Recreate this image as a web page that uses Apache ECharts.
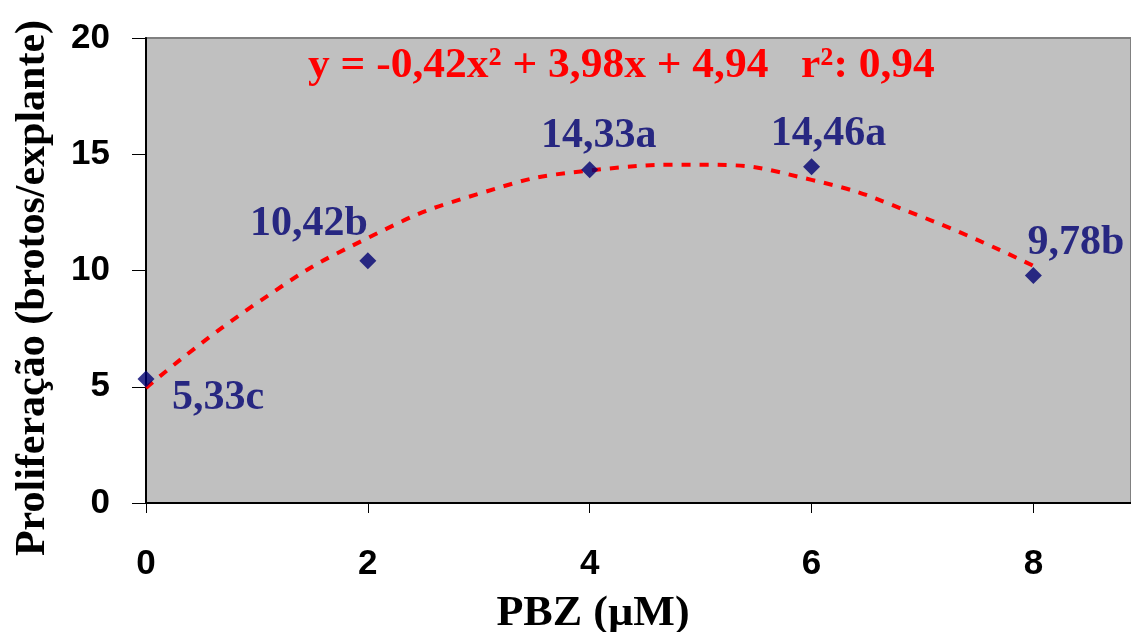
<!DOCTYPE html>
<html>
<head>
<meta charset="utf-8">
<script src="https://cdn.jsdelivr.net/npm/echarts@6/dist/echarts.min.js"></script>
<style>
html,body{margin:0;padding:0;background:#fff;}
#chart{width:1131px;height:632px;}
</style>
</head>
<body>
<div id="chart"></div>
<script>
// Data
const pbzDoses = [0, 2, 4, 6, 8];
const proliferation = [5.33, 10.42, 14.33, 14.46, 9.78];
const pointLabels = ['5,33c', '10,42b', '14,33a', '14,46a', '9,78b'];
// trendline
const trendX = [0, 1, 2, 3, 4, 5, 6, 7, 8];
const trendY = [4.95, 8.6, 11.4, 13.3, 14.3, 14.55, 13.9, 12.3, 10.2];
const yTicks = [0, 5, 10, 15, 20];
const xTicks = [0, 2, 4, 6, 8];
const equationText = 'y = -0,42x² + 3,98x + 4,94   r²: 0,94';
const xAxisTitle = 'PBZ (µM)';
const yAxisTitle = 'Proliferação (brotos/explante)';

// label placement (style only)
const labelPlacement = [
  {align: 'left', offset: [26, 19]},
  {align: 'right', offset: [0, -37]},
  {align: 'center', offset: [9, -34]},
  {align: 'center', offset: [17, -33]},
  {align: 'left', offset: [-6, -32]}
];

const chart = echarts.init(document.getElementById('chart'));
const serif = '"Liberation Serif", "Times New Roman", serif';
const sans = '"Liberation Sans", Arial, sans-serif';

const option = {
  animation: false,
  backgroundColor: '#ffffff',
  grid: {
    left: 146, top: 38, width: 985, height: 465,
    show: true, backgroundColor: '#c0c0c0', borderColor: '#808080', borderWidth: 2
  },
  xAxis: {
    type: 'value', min: 0, max: 8.88, interval: 2,
    axisLine: {show: true, onZero: false, lineStyle: {color: '#000', width: 2}},
    axisTick: {show: true, length: 10, inside: false, lineStyle: {color: '#000', width: 1}},
    axisLabel: {
      showMaxLabel: false, margin: 44, color: '#000',
      fontFamily: sans, fontWeight: 'bold', fontSize: 35,
      formatter: v => xTicks.includes(v) ? String(v) : ''
    },
    splitLine: {show: false}
  },
  yAxis: {
    type: 'value', min: 0, max: 20, interval: 5,
    axisLine: {show: true, onZero: false, lineStyle: {color: '#000', width: 2}},
    axisTick: {show: true, length: 14, inside: false, lineStyle: {color: '#000', width: 1}},
    axisLabel: {
      margin: 36, color: '#000',
      fontFamily: sans, fontWeight: 'bold', fontSize: 35,
      formatter: v => yTicks.includes(v) ? String(v) : ''
    },
    splitLine: {show: false}
  },
  series: [
    {
      type: 'line',
      data: trendX.map((x, i) => [x, trendY[i]]),
      smooth: 0.5,
      showSymbol: false,
      symbol: 'none',
      lineStyle: {color: '#ff0000', width: 4, type: [9, 9]},
      z: 2
    },
    {
      type: 'scatter',
      symbol: 'diamond',
      symbolSize: 17,
      itemStyle: {color: '#000070'},
      data: pbzDoses.map((x, i) => ({
        value: [x, proliferation[i]],
        label: {
          show: true,
          position: 'inside',
          formatter: pointLabels[i],
          align: labelPlacement[i].align,
          verticalAlign: 'middle',
          offset: labelPlacement[i].offset,
          color: '#000070',
          fontFamily: serif,
          fontWeight: 'bold',
          fontSize: 42
        }
      })),
      z: 3
    }
  ],
  graphic: [
    {
      type: 'text', x: 308, y: 66, z: 10, scaleX: 1.035,
      style: {
        text: equationText, fill: '#ff0000',
        font: 'bold 42px ' + serif,
        textAlign: 'left', textVerticalAlign: 'middle'
      }
    },
    {
      type: 'text', x: 593, y: 614, z: 10, scaleX: 1.05,
      style: {
        text: xAxisTitle, fill: '#000',
        font: 'bold 42px ' + serif,
        textAlign: 'center', textVerticalAlign: 'middle'
      }
    },
    {
      type: 'text', x: 33, y: 288, rotation: Math.PI / 2, z: 10,
      style: {
        text: yAxisTitle, fill: '#000',
        font: 'bold 42px ' + serif,
        textAlign: 'center', textVerticalAlign: 'middle'
      }
    }
  ]
};
chart.setOption(option);
</script>
</body>
</html>
